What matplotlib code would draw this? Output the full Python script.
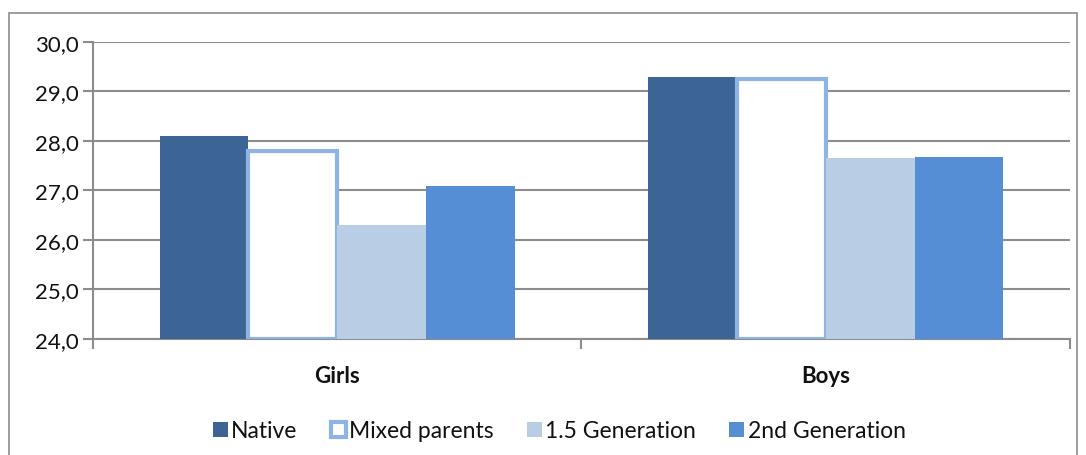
import numpy as np
import matplotlib.pyplot as plt
from matplotlib.patches import Rectangle

plt.rcParams['font.family'] = ['Lato', 'DejaVu Sans']

# data
groups = ["Girls", "Boys"]
series = ["Native", "Mixed parents", "1.5 Generation", "2nd Generation"]
native = [28.1, 29.3]
mixed = [27.8, 29.25]
gen15 = [26.3, 27.65]
gen2 = [27.1, 27.68]
yticks = [24.0, 25.0, 26.0, 27.0, 28.0, 29.0, 30.0]

fills = ["#3C6595", "white", "#B9CDE5", "#558ED5"]
edges = ["#3C6595", "#8DB4E2", "#B9CDE5", "#558ED5"]
widths = [0, 3, 0, 0]

fig = plt.figure(figsize=(10.86, 4.56), dpi=100)
ax = fig.add_axes([0.0856, 0.2544, 0.8997, 0.6513])

# outer chart border
fig.patches.append(Rectangle((9 / 1086, -0.1), 1068 / 1086, 1.1 - 14 / 456,
                             transform=fig.transFigure, fill=False,
                             edgecolor="#8C8C8C", linewidth=1.2))

x = np.arange(len(groups))
w = 1 / 5.5
for i, (vals, name) in enumerate(zip([native, mixed, gen15, gen2], series)):
    ax.bar(x + (i - 1.5) * w, np.array(vals) - 24, width=w, bottom=24,
           color=fills[i], edgecolor=edges[i], linewidth=widths[i],
           label=name, zorder=3)

ax.set_xlim(-0.5, 1.5)
ax.set_ylim(24, 30)
ax.set_yticks(yticks)
ax.set_yticklabels([f"{v:.1f}".replace(".", ",") for v in yticks], fontsize=16,
                   color="#111111")
ax.set_xticks(x)
ax.set_xticklabels(groups, fontsize=16, fontweight="bold", color="#111111")
ax.set_xticks([-0.5, 0.5, 1.5], minor=True)
ax.tick_params(axis="x", which="major", length=0, pad=19)
ax.tick_params(axis="x", which="minor", length=7, width=1.5, color="#8C8C8C",
               direction="out")
ax.tick_params(axis="y", length=7, width=1.5, color="#8C8C8C", pad=3)

ax.grid(axis="y", color="#8C8C8C", linewidth=1.5, zorder=0)
for s in ["top", "right"]:
    ax.spines[s].set_visible(False)
for s in ["left", "bottom"]:
    ax.spines[s].set_color("#8C8C8C")
    ax.spines[s].set_linewidth(1.5)

leg = fig.legend(loc="center", bbox_to_anchor=(0.515, 0.053), ncol=4, frameon=False,
                 fontsize=16.5, handlelength=0.65, handleheight=0.65, handletextpad=0.15,
                 columnspacing=1.45)
for t in leg.get_texts():
    t.set_color("#111111")

fig.savefig("out.png", dpi=100)
